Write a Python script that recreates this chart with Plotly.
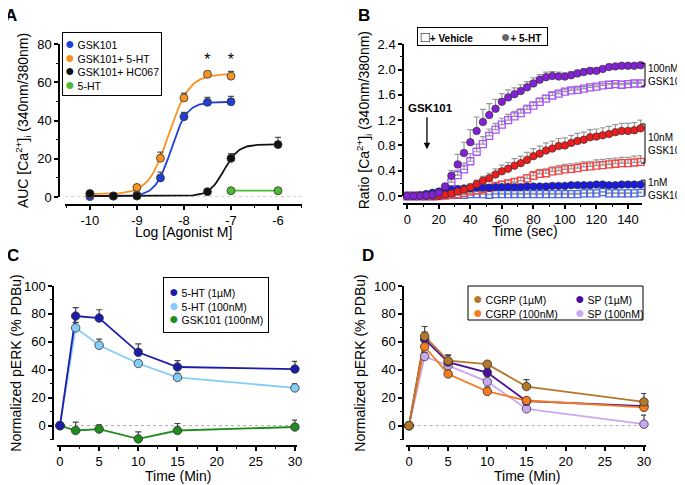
import numpy as np
import plotly.graph_objects as go

# ---------------- panel A : AUC concentration-response ----------------
log_conc_gsk = [-10, -9.5, -9, -8.5, -8, -7.5, -7]
gsk101_auc = [0.2, 0.5, 1.0, 10.0, 42.0, 49.5, 49.8]
gsk101_err = [0.8, 0.5, 1.0, 3.0, 2.2, 2.6, 2.8]

log_conc_5ht = [-10, -9, -8.5, -8, -7.5, -7]
gsk101_5ht_auc = [1.5, 5.0, 20.3, 51.8, 64.2, 63.2]
gsk101_5ht_err = [0.8, 1.0, 3.2, 2.5, 1.5, 2.5]

log_conc_hc = [-10, -9.5, -9, -7.5, -7, -6]
gsk101_hc067_auc = [1.8, 0.5, 0.5, 2.8, 20.2, 27.4]
gsk101_hc067_err = [0.5, 0.3, 0.3, 0.6, 2.5, 3.8]

log_conc_ht = [-7, -6]
ht_auc = [3.3, 3.3]

# Hill fit parameters (GSK101, +5-HT, +HC067)
fit_bottom = [0.5, 1.5, 0.5]
fit_top = [49.7, 64.3, 27.5]
fit_logec50 = [-8.27, -8.32, -7.15]
fit_hill = [2.6, 2.0, 2.8]
fit_xmax = [-7, -7, -6]

star_x = [-7.5, -7]
star_y = [71, 71]

# ---------------- panel B : Ca2+ ratio time course ----------------
time_sec = list(range(0, 149, 4))
gsk100_5ht = [0.00, 0.00, 0.00, 0.01, 0.02, 0.05, 0.15, 0.32, 0.50, 0.68,
              0.85, 1.03, 1.17, 1.28, 1.38, 1.49, 1.56, 1.61, 1.66, 1.72,
              1.78, 1.84, 1.88, 1.90, 1.89, 1.89, 1.91, 1.94, 1.96, 1.98,
              1.98, 2.01, 2.04, 2.05, 2.06, 2.06, 2.06, 2.07]
gsk100_5ht_err = [0, 0, 0, 0.01, 0.02, 0.03, 0.05, 0.08, 0.16, 0.17,
                  0.20, 0.22, 0.20, 0.18, 0.15, 0.13, 0.12, 0.10, 0.10, 0.09,
                  0.09, 0.08, 0.08, 0.07, 0.07, 0.06, 0.06, 0.05, 0.05, 0.04,
                  0.04, 0.03, 0.03, 0.03, 0.03, 0.02, 0.02, 0.02]
gsk100_veh = [0.00, 0.00, 0.00, 0.00, 0.00, 0.01, 0.10, 0.22, 0.33, 0.42,
              0.55, 0.70, 0.82, 0.95, 1.05, 1.13, 1.20, 1.26, 1.31, 1.37,
              1.43, 1.49, 1.54, 1.59, 1.62, 1.65, 1.67, 1.68, 1.70, 1.72,
              1.73, 1.75, 1.76, 1.77, 1.76, 1.77, 1.78, 1.78]
gsk100_veh_err = [0, 0, 0, 0, 0, 0, 0.02, 0.05, 0.08, 0.10,
                  0.12, 0.12, 0.12, 0.11, 0.10, 0.10, 0.09, 0.08, 0.07, 0.07,
                  0.06, 0.06, 0.05, 0.05, 0.04, 0.04, 0.04, 0.03, 0.03, 0.03,
                  0.03, 0.03, 0.02, 0.02, 0.02, 0.02, 0.02, 0.02]
gsk10_5ht = [0.00, 0.00, 0.00, 0.00, 0.00, 0.00, 0.02, 0.04, 0.07, 0.10,
             0.14, 0.19, 0.24, 0.28, 0.34, 0.39, 0.43, 0.48, 0.52, 0.57,
             0.63, 0.67, 0.72, 0.75, 0.79, 0.80, 0.84, 0.87, 0.89, 0.93,
             0.94, 0.96, 0.98, 1.01, 1.03, 1.03, 1.04, 1.07]
gsk10_5ht_err = [0, 0, 0, 0, 0, 0, 0.01, 0.02, 0.03, 0.04,
                 0.05, 0.06, 0.07, 0.08, 0.09, 0.10, 0.10, 0.11, 0.11, 0.12,
                 0.12, 0.12, 0.12, 0.12, 0.12, 0.12, 0.12, 0.12, 0.12, 0.12,
                 0.12, 0.12, 0.12, 0.12, 0.12, 0.12, 0.12, 0.13]
gsk10_veh = [0.00, 0.00, 0.00, 0.00, 0.00, 0.00, 0.01, 0.02, 0.03, 0.05,
             0.07, 0.09, 0.11, 0.13, 0.16, 0.18, 0.20, 0.22, 0.24, 0.28,
             0.32, 0.35, 0.36, 0.39, 0.40, 0.42, 0.43, 0.44, 0.46, 0.47,
             0.48, 0.49, 0.50, 0.51, 0.52, 0.52, 0.53, 0.54]
gsk10_veh_err = [0, 0, 0, 0, 0, 0, 0.01, 0.01, 0.02, 0.02,
                 0.03, 0.03, 0.04, 0.04, 0.05, 0.05, 0.05, 0.06, 0.06, 0.06,
                 0.07, 0.07, 0.07, 0.07, 0.08, 0.08, 0.08, 0.08, 0.08, 0.08,
                 0.09, 0.09, 0.09, 0.09, 0.09, 0.09, 0.10, 0.10]
gsk1_5ht = [0.00, 0.00, 0.01, 0.03, 0.05, 0.07, 0.09, 0.10, 0.11, 0.12,
            0.12, 0.13, 0.13, 0.13, 0.14, 0.14, 0.14, 0.14, 0.14, 0.15,
            0.15, 0.15, 0.15, 0.16, 0.16, 0.16, 0.17, 0.17, 0.17, 0.17,
            0.18, 0.18, 0.17, 0.17, 0.18, 0.18, 0.18, 0.18]
gsk1_veh = [0.00, 0.00, 0.00, 0.00, 0.00, 0.01, 0.01, 0.02, 0.02, 0.02,
            0.03, 0.03, 0.03, 0.02, 0.03, 0.03, 0.03, 0.03, 0.03, 0.03,
            0.03, 0.03, 0.03, 0.03, 0.03, 0.03, 0.03, 0.03, 0.04, 0.04,
            0.04, 0.06, 0.04, 0.04, 0.04, 0.04, 0.04, 0.05]

# ---------------- panels C and D : pERK time course ----------------
time_min = [0, 2, 5, 10, 15, 30]
ht_1um = [0, 78.5, 77.0, 52.5, 42.0, 40.5]
ht_1um_err = [0, 6, 6, 6, 4.5, 5.5]
ht_100nm = [0, 70.0, 57.5, 44.5, 34.5, 27.0]
ht_100nm_err = [0, 4, 4.5, 2, 3, 3]
gsk_100nm = [0, -3.5, -2.5, -9.5, -3.5, -1.0]
gsk_100nm_err = [0, 6, 3, 5, 5, 5]

cgrp_1um = [0, 64.0, 46.5, 44.0, 28.0, 17.0]
cgrp_1um_err = [0, 7, 4, 2, 5, 6]
cgrp_100nm = [0, 56.5, 37.0, 24.5, 18.0, 13.0]
cgrp_100nm_err = [0, 3, 2, 3, 2, 2]
sp_1um = [0, 62.0, 45.5, 38.0, 17.5, 14.0]
sp_1um_err = [0, 5, 5, 3, 2, 2]
sp_100nm = [0, 49.5, 43.0, 31.5, 12.0, 1.0]
sp_100nm_err = [0, 3, 3, 4, 3, 6.5]

FONT = "Arial, Liberation Sans, sans-serif"

# the page body has an 8px margin, so the figure is 8px smaller than the window
W, H = 677, 477


def px(p):
    return (p - 8) / W


def py(p):
    return 1 - (p - 8) / H


def up_err(err, color):
    return dict(type="data", symmetric=False, array=err, arrayminus=[0] * len(err),
                color=color, thickness=1.2, width=3)


def axis_style(**kw):
    d = dict(showline=True, linecolor="black", linewidth=1.5, ticks="outside",
             ticklen=4, tickwidth=1.5, tickcolor="black", showgrid=False,
             zeroline=False, automargin=False,
             tickfont=dict(size=13, color="black", family=FONT),
             title_font=dict(size=14, color="black", family=FONT))
    d.update(kw)
    return d


def minor(dt):
    return dict(ticks="outside", ticklen=2.5, tickwidth=1.2, tickcolor="black", dtick=dt)


fig = go.Figure()

# ---- A ----
curve_colors = ["#1f3fd8", "#f7931e", "#111111"]
for b, t, ec, h, xm, c in zip(fit_bottom, fit_top, fit_logec50, fit_hill, fit_xmax, curve_colors):
    xs = np.linspace(-10, xm, 120)
    ys = b + (t - b) / (1 + 10 ** ((ec - xs) * h))
    fig.add_trace(go.Scatter(x=xs, y=ys, mode="lines", line=dict(color=c, width=1.8),
                             hoverinfo="skip", xaxis="x", yaxis="y"))
fig.add_trace(go.Scatter(x=log_conc_ht, y=ht_auc, mode="lines", line=dict(color="#4dbb2f", width=1.8),
                         xaxis="x", yaxis="y"))
a_series = [
    ("GSK101", log_conc_gsk, gsk101_auc, gsk101_err, "#1f3fd8"),
    ("GSK101+ 5-HT", log_conc_5ht, gsk101_5ht_auc, gsk101_5ht_err, "#f7931e"),
    ("GSK101+ HC067", log_conc_hc, gsk101_hc067_auc, gsk101_hc067_err, "#111111"),
    ("5-HT", log_conc_ht, ht_auc, [0, 0], "#4dbb2f"),
]
for name, xv, yv, ev, c in a_series:
    fig.add_trace(go.Scatter(x=xv, y=yv, mode="markers", name=name, error_y=up_err(ev, "#555555"),
                             marker=dict(color=c, size=8, line=dict(color="#333333", width=0.8)),
                             cliponaxis=False, xaxis="x", yaxis="y"))
fig.add_trace(go.Scatter(x=star_x, y=star_y, mode="text", text=["*", "*"],
                         textfont=dict(size=16, color="black", family=FONT),
                         cliponaxis=False, xaxis="x", yaxis="y"))

# ---- B ----
b_open = [
    (gsk1_veh, [0.01] * len(gsk1_veh), "#4d6bf0"),
    (gsk10_veh, gsk10_veh_err, "#f04848"),
    (gsk100_veh, gsk100_veh_err, "#a855f7"),
]
for yv, ev, c in b_open:
    fig.add_trace(go.Scatter(x=time_sec, y=yv, mode="markers",
                             error_y=up_err(ev, "#999999"),
                             marker=dict(symbol="square-open", color=c, size=7, line=dict(width=1.3)),
                             cliponaxis=False, xaxis="x2", yaxis="y2"))
b_filled = [
    (gsk1_5ht, [0.02] * len(gsk1_5ht), "#1a1ae0"),
    (gsk10_5ht, gsk10_5ht_err, "#ee1c1c"),
    (gsk100_5ht, gsk100_5ht_err, "#8420d8"),
]
for yv, ev, c in b_filled:
    fig.add_trace(go.Scatter(x=time_sec, y=yv, mode="markers",
                             error_y=up_err(ev, "#999999"),
                             marker=dict(color=c, size=7.5, line=dict(color="#333333", width=0.7)),
                             cliponaxis=False, xaxis="x2", yaxis="y2"))

# ---- C ----
c_series = [
    ("5-HT (1µM)", ht_1um, ht_1um_err, "#1c1caa"),
    ("5-HT (100nM)", ht_100nm, ht_100nm_err, "#82cdf7"),
    ("GSK101 (100nM)", gsk_100nm, gsk_100nm_err, "#1e8c1e"),
]
for name, yv, ev, c in reversed(c_series):
    fig.add_trace(go.Scatter(x=time_min, y=yv, mode="lines", line=dict(color=c, width=1.8),
                             xaxis="x3", yaxis="y3"))
for name, yv, ev, c in reversed(c_series):
    fig.add_trace(go.Scatter(x=time_min, y=yv, mode="markers", name=name,
                             error_y=up_err(ev, "#444444"),
                             marker=dict(color=c, size=8.5, line=dict(color="#333333", width=0.8)),
                             cliponaxis=False, xaxis="x3", yaxis="y3"))

# ---- D ----
d_series = [
    ("CGRP (1µM)", cgrp_1um, cgrp_1um_err, "#b5772a"),
    ("CGRP (100nM)", cgrp_100nm, cgrp_100nm_err, "#f47b20"),
    ("SP (1µM)", sp_1um, sp_1um_err, "#4a0d9e"),
    ("SP (100nM)", sp_100nm, sp_100nm_err, "#c9a9f2"),
]
for name, yv, ev, c in reversed(d_series):
    fig.add_trace(go.Scatter(x=time_min, y=yv, mode="lines", line=dict(color=c, width=1.8),
                             xaxis="x4", yaxis="y4"))
for name, yv, ev, c in reversed(d_series):
    fig.add_trace(go.Scatter(x=time_min, y=yv, mode="markers", name=name,
                             error_y=up_err(ev, "#444444"),
                             marker=dict(color=c, size=8.5, line=dict(color="#333333", width=0.8)),
                             cliponaxis=False, xaxis="x4", yaxis="y4"))

# ---- axes ----
fig.update_layout(
    xaxis=axis_style(domain=[px(65), px(302)], range=[-10.53, -5.49], anchor="free", position=py(205),
                     tickvals=[-10, -9, -8, -7, -6], ticktext=["-10", "-9", "-8", "-7", "-6"],
                     minor=minor(0.5)),
    yaxis=axis_style(domain=[py(197), py(44)], range=[0, 80], anchor="free", position=px(59),
                     dtick=20, minor=minor(10),
                     title=dict(text="AUC [Ca<sup>2+</sup>]<sub>i</sub> (340nm/380nm)", standoff=4)),
    xaxis2=axis_style(domain=[px(403), px(642)], range=[-2.7, 148.9], anchor="free", position=py(204),
                      dtick=20, minor=minor(10)),
    yaxis2=axis_style(domain=[py(196), py(44.3)], range=[0, 2.4], anchor="free", position=px(403),
                      dtick=0.4, tickformat=".1f", minor=minor(0.2),
                      title=dict(text="Ratio [Ca<sup>2+</sup>]<sub>i</sub> (340nm/380nm)", standoff=4)),
    xaxis3=axis_style(domain=[px(57), px(297)], range=[-0.38, 30.26], anchor="free", position=py(446),
                      dtick=5, minor=minor(2.5)),
    yaxis3=axis_style(domain=[py(440), py(286)], range=[-10.3, 100], anchor="free", position=px(53),
                      tickvals=[0, 20, 40, 60, 80, 100], minor=minor(10),
                      title=dict(text="Normalized pERK (% PDBu)", standoff=4)),
    xaxis4=axis_style(domain=[px(405.7), px(646)], range=[-0.42, 30.26], anchor="free", position=py(446),
                      dtick=5, minor=minor(2.5)),
    yaxis4=axis_style(domain=[py(440), py(286)], range=[-10.3, 100], anchor="free", position=px(403),
                      tickvals=[0, 20, 40, 60, 80, 100], minor=minor(10),
                      title=dict(text="Normalized pERK (% PDBu)", standoff=4)),
)

annotations = []
shapes = []

# x axis titles
for txt, cx, cy in [("Log [Agonist M]", 184, 232.5), ("Time (sec)", 525, 231),
                    ("Time (Min)", 178, 476), ("Time (Min)", 527, 476)]:
    annotations.append(dict(x=px(cx), y=py(cy), xref="paper", yref="paper", text=txt, showarrow=False,
                            xanchor="center", yanchor="middle",
                            font=dict(size=14, color="black", family=FONT)))


def dot(color, symbol="●", size=16):
    return f"<span style='color:{color};font-size:{size}px'>{symbol}</span>"


# ---- legends written as boxed text ----
box = dict(xref="paper", yref="paper", showarrow=False, xanchor="left", yanchor="top", align="left",
           font=dict(size=10.5, color="black", family=FONT))
annotations.append(dict(box, x=px(62), y=py(32), bgcolor="white", bordercolor="black", borderwidth=1,
                        borderpad=2,
                        text="<br>".join(f"{dot(c)} {n}" for n, _, _, _, c in a_series)))
annotations.append(dict(box, x=px(163), y=py(277), bgcolor="white", bordercolor="black", borderwidth=1,
                        borderpad=5,
                        text="<br>".join(f"{dot(c)} {n}" for n, _, _, c in c_series)))
shapes.append(dict(type="rect", xref="paper", yref="paper", x0=px(468), x1=px(643), y0=py(320), y1=py(286),
                   line=dict(color="black", width=1), fillcolor="white", layer="below"))
annotations.append(dict(box, x=px(471), y=py(288),
                        text="<br>".join(f"{dot(c)} {n}" for n, _, _, c in d_series[:2])))
annotations.append(dict(box, x=px(573), y=py(288),
                        text="<br>".join(f"{dot(c)} {n}" for n, _, _, c in d_series[2:])))
annotations.append(dict(box, x=px(417), y=py(27), bgcolor="white", bordercolor="black", borderwidth=1,
                        borderpad=0, font=dict(size=10, color="black", family=FONT),
                        text=f" {dot('black', '□', 15)}<b>+ Vehicle</b>          "
                             f"{dot('#666666', '●', 16)}<b>+ 5-HT</b>  "))

# ---- reference lines, brackets, labels ----
for xr, yr in [("x", "y"), ("x3", "y3"), ("x4", "y4")]:
    shapes.append(dict(type="line", xref=xr + " domain", yref=yr, x0=0, x1=1, y0=0, y1=0,
                       line=dict(color="#aaaaaa", width=1, dash="dot"), layer="below"))
brackets = [(2.10, 1.74, "100nM<br>GSK101"), (1.14, 0.52, "10nM<br>GSK101"), (0.25, -0.02, "1nM<br>GSK101")]
for top, bot, txt in brackets:
    shapes.append(dict(type="path", xref="paper", yref="y2",
                       path=f"M {px(641)} {top} L {px(645)} {top} L {px(645)} {bot} L {px(641)} {bot}",
                       line=dict(color="black", width=1)))
    annotations.append(dict(x=px(646), y=(top + bot) / 2, xref="paper", yref="y2", text=txt,
                            showarrow=False, xanchor="left", align="left",
                            font=dict(size=10, color="black", family=FONT)))
annotations.append(dict(x=12.5, y=0.74, xref="x2", yref="y2", ax=12.5, ay=1.27, axref="x2", ayref="y2",
                        text="", showarrow=True, arrowhead=2, arrowsize=1, arrowwidth=1.3, arrowcolor="black"))
annotations.append(dict(x=14.5, y=1.40, xref="x2", yref="y2", text="<b>GSK101</b>", showarrow=False,
                        font=dict(size=11.5, color="black", family=FONT)))
for letter, lx, ly in [("A", 3, 16), ("B", 356, 16), ("C", 5, 256), ("D", 360, 256)]:
    annotations.append(dict(x=px(lx), y=py(ly), xref="paper", yref="paper", text=f"<b>{letter}</b>",
                            showarrow=False, xanchor="left", yanchor="middle",
                            font=dict(size=17, color="black", family=FONT)))

fig.update_layout(
    template="none",
    showlegend=False,
    width=W, height=H,
    margin=dict(l=0, r=0, t=0, b=0),
    paper_bgcolor="white", plot_bgcolor="white",
    font=dict(family=FONT, color="black"),
    shapes=shapes, annotations=annotations,
)

fig.write_html("out.html")
